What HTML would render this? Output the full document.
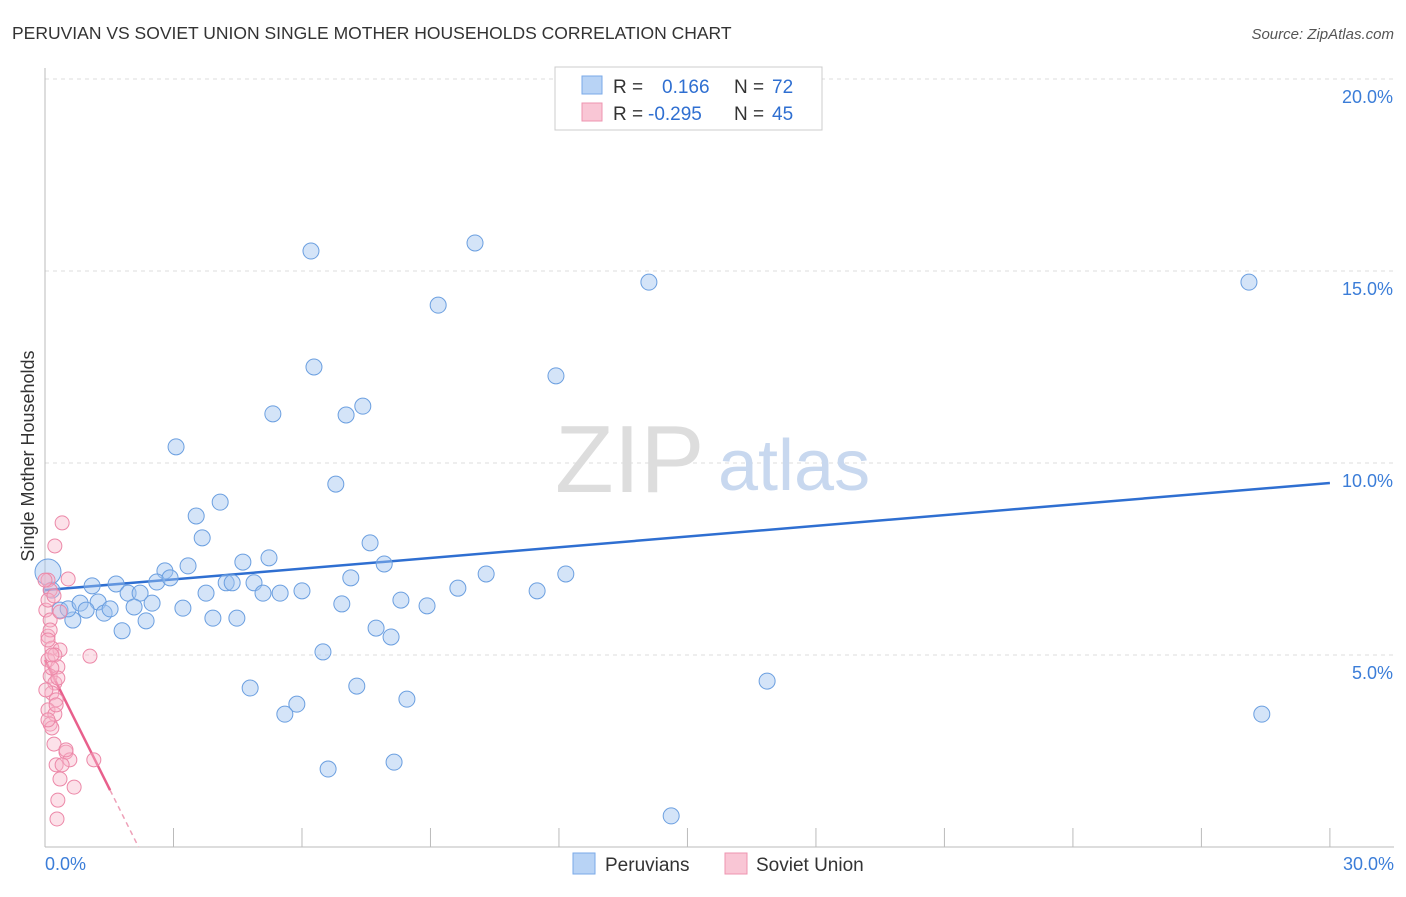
<!DOCTYPE html>
<html><head><meta charset="utf-8"><style>
body{margin:0;background:#fff;font-family:"Liberation Sans",sans-serif;}
svg text{font-family:"Liberation Sans",sans-serif;}
</style></head><body>
<svg width="1406" height="892">
<text x="12" y="39" font-size="17.5" fill="#333">PERUVIAN VS SOVIET UNION SINGLE MOTHER HOUSEHOLDS CORRELATION CHART</text>
<text x="1394" y="39" font-size="15" fill="#555" text-anchor="end" font-style="italic">Source: ZipAtlas.com</text>
<text x="34" y="456" font-size="18" fill="#333" text-anchor="middle" transform="rotate(-90 34 456)">Single Mother Households</text>
<g id="grid"></g>
<text x="555" y="492" font-size="96" fill="#ddd" font-family="Liberation Serif">ZIP</text>
<text x="718" y="490" font-size="72" fill="#c8d8ef">atlas</text>
<g id="lines"></g>
<g id="points"></g>
<rect x="555" y="67" width="267" height="63" fill="#fff" stroke="#ccc"/>
<rect x="582" y="76" width="20" height="18" fill="#b8d3f5" stroke="#7aa9e8"/>
<rect x="582" y="103" width="20" height="18" fill="#f9c6d5" stroke="#ee94b0"/>
<text font-size="19" fill="#333"><tspan x="613" y="93">R =</tspan><tspan x="662" fill="#2f6fd1">0.166</tspan><tspan x="734">N =</tspan><tspan x="772" fill="#2f6fd1">72</tspan></text>
<text font-size="19" fill="#333"><tspan x="613" y="120">R =</tspan><tspan x="648" fill="#2f6fd1">-0.295</tspan><tspan x="734">N =</tspan><tspan x="772" fill="#2f6fd1">45</tspan></text>
<rect x="573" y="853" width="22" height="21" fill="#b8d3f5" stroke="#7aa9e8"/>
<text x="605" y="871" font-size="19" fill="#333">Peruvians</text>
<rect x="725" y="853" width="22" height="21" fill="#f9c6d5" stroke="#ee94b0"/>
<text x="756" y="871" font-size="19" fill="#333">Soviet Union</text>
</svg>
<script>
const yTicks=[5,10,15,20];
const yTickLabels=["5.0%","10.0%","15.0%","20.0%"];
const xTicks=[0,3,6,9,12,15,18,21,24,27,30];
const xEndLabels=["0.0%","30.0%"];
const blueX=[6.21,10.04,14.10,28.11,9.18,6.28,11.93,5.32,7.03,7.42,3.06,6.79,4.09,3.53,3.67,7.59,4.62,5.23,3.34,2.80,2.61,2.92,1.66,1.10,1.94,2.22,2.50,3.22,3.76,4.23,4.37,4.88,5.09,5.49,6.00,7.14,7.92,10.30,12.16,9.64,11.49,6.93,8.31,8.92,3.92,4.48,2.36,1.80,7.73,8.08,6.49,4.79,7.28,16.86,5.88,5.60,8.45,28.41,6.61,8.15,14.62,0.07,0.35,0.65,0.54,0.82,1.24,1.38,1.52,0.96,2.08,0.16];
const blueY=[15.52,15.73,14.71,14.71,14.11,12.50,12.27,11.28,11.25,11.48,10.42,9.45,8.98,8.62,8.05,7.92,7.42,7.53,7.32,7.19,6.90,7.01,6.85,6.80,6.61,6.61,6.35,6.22,6.61,6.88,6.88,6.88,6.61,6.61,6.67,7.01,7.37,7.11,7.11,6.74,6.67,6.33,6.43,6.28,5.96,5.96,5.89,5.63,5.70,5.47,5.08,4.14,4.19,4.32,3.72,3.46,3.85,3.46,2.03,2.21,0.81,7.16,6.17,5.91,6.20,6.35,6.38,6.09,6.20,6.17,6.25,6.69];
const pinkX=[0.40,0.23,0.54,0.07,0.12,0.02,0.12,0.07,0.16,0.35,0.07,0.23,0.30,0.12,0.23,1.05,0.16,0.26,0.07,0.23,0.12,0.16,0.21,0.49,0.58,1.14,0.26,0.35,0.68,0.30,0.28,0.00,0.07,0.12,0.16,0.30,0.02,0.07,0.40,0.49,0.16,0.26,0.07,0.35,0.21];
const pinkY=[8.44,7.84,6.98,6.95,6.69,6.17,5.91,5.49,5.18,5.13,4.87,5.00,4.69,4.45,4.27,4.97,4.01,3.83,3.57,3.46,3.20,3.10,2.68,2.47,2.27,2.27,2.14,1.77,1.56,1.22,0.73,6.95,6.43,5.65,5.00,4.40,4.09,3.31,2.14,2.53,4.66,3.70,5.39,6.12,6.54];
const blueLine=[6.69,9.48];
const pinkLine=[4.87,-2.23];
const NS="http://www.w3.org/2000/svg";
const X=v=>45+v*42.83, Y=v=>847-v*38.4;
function mk(t,a,p){const e=document.createElementNS(NS,t);for(const k in a)e.setAttribute(k,a[k]);document.getElementById(p).appendChild(e);return e;}
yTicks.forEach((t,i)=>{
 const l=mk('line',{x1:45,x2:1394,y1:Y(t),y2:Y(t),stroke:'#ddd','stroke-dasharray':'4,4'},'grid');
 
 
 const tx=mk('text',{x:1393,y:Y(t)+24,'font-size':18,fill:'#3b7dd8','text-anchor':'end'},'grid');
 tx.textContent=yTickLabels[i];
 
 
});
const ax=mk('line',{x1:45,x2:45,y1:68,y2:847,stroke:'#bbb'},'grid');


const bx=mk('line',{x1:45,x2:1394,y1:847,y2:847,stroke:'#bbb'},'grid');


xTicks.forEach(t=>{
 const l=mk('line',{x1:X(t),x2:X(t),y1:828,y2:847,stroke:'#bbb'},'grid');
 
 
});
[[0,'start',45],[30,'end',1394]].forEach((d,i)=>{
 const tx=mk('text',{x:d[2],y:870,'font-size':18,fill:'#3b7dd8','text-anchor':d[1]},'grid');
 tx.textContent=xEndLabels[i];
 
 
});
blueX.forEach((x,i)=>{
 const r=(i===61)?13:8;
 const c=mk('circle',{cx:X(x),cy:Y(blueY[i]),r:r,fill:'rgba(160,196,240,0.45)',stroke:'#6b9fe0','stroke-width':1},'points');
 
 
});
pinkX.forEach((x,i)=>{
 const c=mk('circle',{cx:X(x),cy:Y(pinkY[i]),r:7,fill:'rgba(248,180,200,0.4)',stroke:'#ec88a8','stroke-width':1},'points');
 
 
});
const bl=mk('line',{x1:X(0),y1:Y(blueLine[0]),x2:X(30),y2:Y(blueLine[1]),stroke:'#2f6fd1','stroke-width':2.5},'lines');


const pe=1.52, pz=-pinkLine[0]/pinkLine[1];
const pl=mk('line',{x1:X(0),y1:Y(pinkLine[0]),x2:X(pe),y2:Y(pinkLine[0]+pinkLine[1]*pe),stroke:'#e8608c','stroke-width':2.5},'lines');


const pd=mk('line',{x1:X(pe),y1:Y(pinkLine[0]+pinkLine[1]*pe),x2:X(pz),y2:Y(0),stroke:'#eea0b8','stroke-width':1.5,'stroke-dasharray':'5,4'},'lines');


</script>
</body></html>
